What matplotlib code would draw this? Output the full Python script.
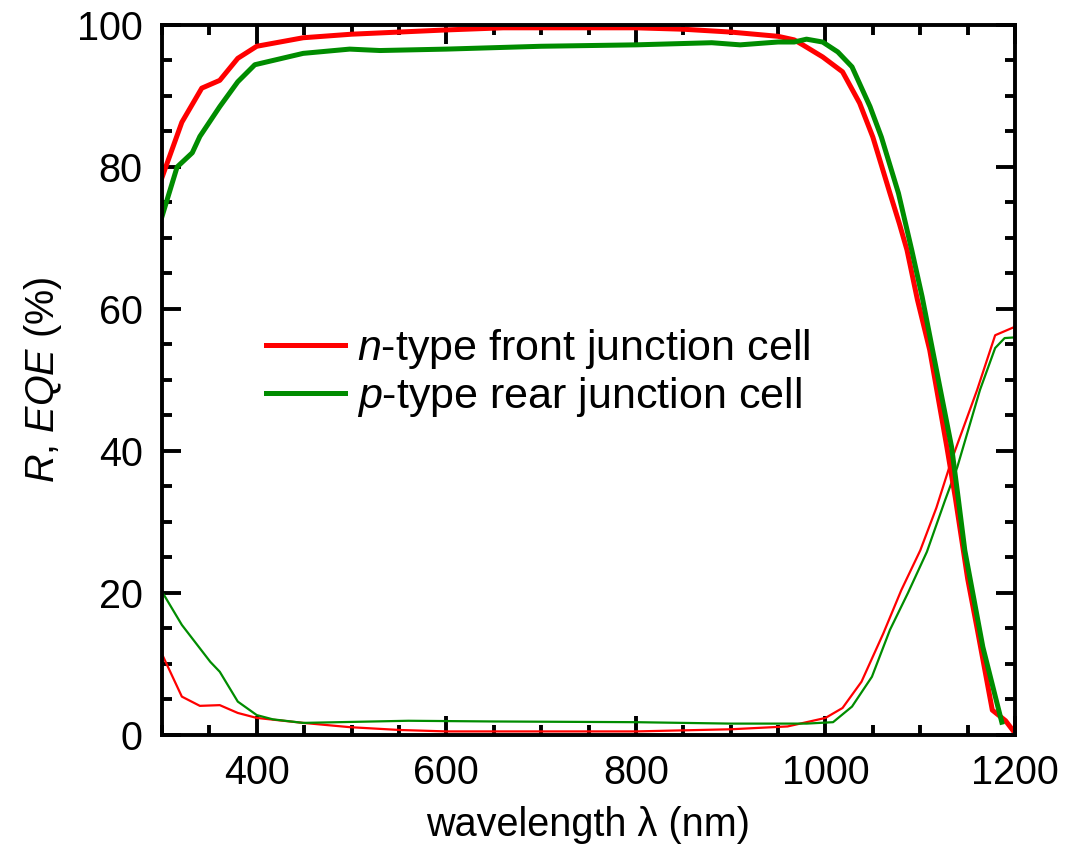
import matplotlib
matplotlib.use("Agg")
import matplotlib.pyplot as plt
from matplotlib.ticker import MultipleLocator

plt.rcParams['font.family'] = ['Liberation Sans', 'DejaVu Sans']
plt.rcParams['mathtext.fontset'] = 'custom'
plt.rcParams['mathtext.rm'] = 'Liberation Sans'
plt.rcParams['mathtext.it'] = 'Liberation Sans:italic'

# EQE curves (thick)
wl_eqe_n = [300, 321, 342, 361, 380, 400, 449, 500, 600, 660, 800, 850, 900, 950, 967, 976,
            997, 1018, 1036, 1050, 1068, 1078, 1086, 1097, 1110, 1128, 1137, 1150, 1160,
            1176, 1190, 1198]
eqe_n = [78.5, 86.3, 91.1, 92.2, 95.3, 97.0, 98.2, 98.7, 99.3, 99.6, 99.6, 99.4, 99.0, 98.4, 97.9, 97.2,
         95.5, 93.4, 89.0, 84.2, 76.3, 72.0, 68.3, 61.3, 54.2, 40.6, 33.4, 22.0, 15.0,
         3.5, 2.0, 0.6]

wl_eqe_p = [300, 316, 332, 340, 361, 380, 398, 449, 498, 530, 600, 700, 800, 880, 910, 950,
            967, 980, 997, 1013, 1028, 1047, 1059, 1077, 1091, 1102, 1113, 1133, 1140,
            1147, 1166, 1186]
eqe_p = [73.0, 80.0, 82.0, 84.3, 88.5, 92.0, 94.4, 96.0, 96.6, 96.4, 96.6, 97.0, 97.2, 97.5, 97.2, 97.6,
         97.6, 98.0, 97.6, 96.2, 94.1, 88.5, 84.2, 76.3, 68.3, 61.7, 54.2, 40.6, 33.4,
         26.0, 12.4, 1.8]

# Reflectance curves (thin)
wl_r_n = [300, 321, 340, 361, 380, 400, 449, 498, 551, 600, 700, 800, 900, 960, 1000,
          1018, 1038, 1061, 1080, 1100, 1117, 1133, 1160, 1179, 1200]
r_n = [11.4, 5.4, 4.1, 4.2, 3.1, 2.4, 1.7, 1.1, 0.7, 0.5, 0.5, 0.5, 0.8, 1.2, 2.4,
       3.8, 7.5, 14.3, 20.4, 26.0, 32.0, 38.7, 48.6, 56.3, 57.5]

wl_r_p = [300, 321, 351, 361, 380, 400, 417, 449, 560, 650, 800, 900, 980, 1008,
          1028, 1049, 1068, 1087, 1107, 1126, 1139, 1163, 1179, 1189, 1200]
r_p = [20.2, 15.5, 10.3, 8.9, 4.7, 2.8, 2.2, 1.7, 2.0, 1.9, 1.8, 1.6, 1.6, 1.8,
       4.0, 8.2, 14.8, 20.0, 25.8, 33.0, 37.7, 48.6, 54.5, 55.9, 56.0]

red = '#ff0000'
green = '#008c00'

fig = plt.figure(figsize=(10.84, 8.58), dpi=100)
ax = fig.add_axes([0.1494, 0.1434, 0.787, 0.8275])

ax.plot(wl_r_n, r_n, color=red, lw=1.6)
ax.plot(wl_r_p, r_p, color=green, lw=1.6)
ax.plot(wl_eqe_n, eqe_n, color=red, lw=3.6, label=r'$n$-type front junction cell')
ax.plot(wl_eqe_p, eqe_p, color=green, lw=3.6, label=r'$p$-type rear junction cell')

ax.set_xlim(300, 1200)
ax.set_ylim(0, 100)
ax.xaxis.set_major_locator(MultipleLocator(200))
ax.xaxis.set_minor_locator(MultipleLocator(50))
ax.yaxis.set_major_locator(MultipleLocator(20))
ax.yaxis.set_minor_locator(MultipleLocator(5))
ax.tick_params(which='both', direction='in', top=True, right=True, width=2.8, labelsize=28.5)
ax.tick_params(which='major', length=14, pad=14)
ax.tick_params(which='minor', length=7)
for s in ax.spines.values():
    s.set_linewidth(2.8)

ax.set_xlabel('wavelength λ (nm)', fontsize=28.5, labelpad=10)
ax.set_ylabel(r'$R$, $EQE$ (%)', fontsize=28.5, labelpad=9)

ax.legend(loc='center left', bbox_to_anchor=(0.076, 0.51), frameon=False, fontsize=31,
          handlelength=1.85, handletextpad=0.28, labelspacing=0.08)

fig.savefig('out.png', dpi=100)
